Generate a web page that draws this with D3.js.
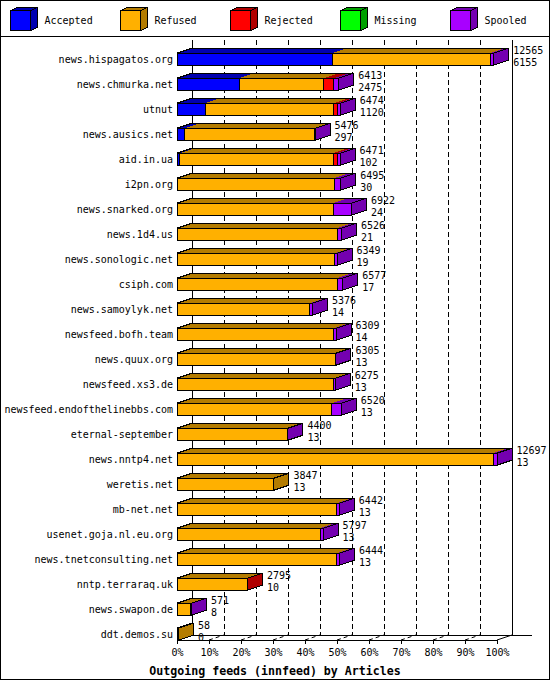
<!DOCTYPE html>
<html>
<head>
<meta charset="utf-8">
<script src="https://cdn.jsdelivr.net/npm/d3@7"></script>
<style>
body { margin: 0; background: #fff; }
text { font-family: "DejaVu Sans Mono", monospace; font-size: 10px; fill: #000; }
</style>
</head>
<body>
<div id="graf"></div>
<script>
// I. Datos

hosts = ['news.hispagatos.org', 'news.chmurka.net', 'utnut', 'news.ausics.net', 'aid.in.ua',
        'i2pn.org', 'news.snarked.org', 'news.1d4.us', 'news.sonologic.net', 'csiph.com',
        'news.samoylyk.net', 'newsfeed.bofh.team', 'news.quux.org', 'newsfeed.xs3.de',
        'newsfeed.endofthelinebbs.com', 'eternal-september', 'news.nntp4.net', 'weretis.net',
        'mb-net.net', 'usenet.goja.nl.eu.org', 'news.tnetconsulting.net', 'nntp.terraraq.uk',
        'news.swapon.de', 'ddt.demos.su']
offered = [12565, 6413, 6474, 5476, 6471, 6495, 6922, 6526, 6349, 6577, 5376, 6309, 6305, 6275,
        6520, 4400, 12697, 3847, 6442, 5797, 6444, 2795, 571, 58]
accepted = [6155, 2475, 1120, 297, 102, 30, 24, 21, 19, 17, 14, 14, 13, 13, 13, 13, 13, 13, 13,
        13, 13, 10, 8, 0]
refused = [6280, 3343, 5088, 5149, 6103, 6200, 6171, 6333, 6237, 6338, 5243, 6202, 6264, 6196,
        6137, 4360, 12534, 3834, 6326, 5678, 6328, 2770, 540, 58]
rejected = [0, 397, 159, 0, 159, 0, 0, 0, 0, 0, 0, 0, 0, 0, 0, 0, 0, 0, 0, 0, 0, 15, 0, 0]
missing = [0, 0, 0, 0, 0, 0, 0, 0, 0, 0, 0, 0, 0, 0, 0, 0, 0, 0, 0, 0, 0, 0, 0, 0]
spooled = [130, 198, 107, 30, 107, 265, 727, 172, 93, 222, 119, 93, 28, 66, 370, 27, 150, 0,
        103, 106, 103, 0, 23, 0]

series = ['Accepted', 'Refused', 'Rejected', 'Missing', 'Spooled']
valores = [accepted, refused, rejected, missing, spooled]
colores = ['#0000ff', '#ffb000', '#ff0000', '#00ff00', '#a800ff']
oscuros = ['#0000b0', '#b47c00', '#b00000', '#00a000', '#7400b0']
pctTicks = d3.range(0, 101, 10)
titulo = 'Outgoing feeds (innfeed) by Articles'

// II. Configuracion
ancho_total = 550
alto_total = 680
DX = 15   // profundidad 3D
DY = 5
yTop = 40
yFloor = 640

svg = d3.select('#graf').append('svg')
        .attr('width', ancho_total)
        .attr('height', alto_total)
        .attr('shape-rendering', 'crispEdges')

svg.append('rect')
        .attr('x', 0.5).attr('y', 0.5)
        .attr('width', ancho_total - 1).attr('height', alto_total - 1)
        .attr('fill', '#fff').attr('stroke', '#000')

//Escaladores
x = d3.scaleLinear().domain([0, d3.max(offered)]).range([177, 497])
pct = d3.scaleLinear().domain([0, 100]).range(x.range())
y = d3.scaleBand().domain(hosts).range([46.7, 46.7 + 25 * hosts.length])
cy = h => y(h) + y.bandwidth() / 2

// Leyenda
leg = svg.append('g')
series.forEach((s, i) => {
        let lx = 10.5 + 110 * i
        let g = leg.append('g').attr('transform', `translate(${lx}, 10.5)`)
        g.append('polygon')
                .attr('points', `0,0 7,-3 27,-3 20,0`)
                .attr('fill', oscuros[i]).attr('stroke', '#000')
        g.append('polygon')
                .attr('points', `20,0 27,-3 27,17 20,20`)
                .attr('fill', oscuros[i]).attr('stroke', '#000')
        g.append('rect')
                .attr('width', 20).attr('height', 20)
                .attr('fill', colores[i]).attr('stroke', '#000')
        g.append('text').attr('x', 34).attr('y', 13.5).text(s)
})
svg.append('line')
        .attr('x1', 0).attr('x2', ancho_total)
        .attr('y1', 36.5).attr('y2', 36.5)
        .attr('stroke', '#000')

// Paredes y rejilla
grid = svg.append('g')
pctTicks.forEach(t => {
        let gx = pct(t) + DX
        grid.append('line')
                .attr('x1', gx).attr('x2', gx)
                .attr('y1', yTop).attr('y2', yFloor - DY)
                .attr('stroke', '#000')
                .attr('stroke-dasharray', (t == 0 || t == 100) ? null : '5,3')
        grid.append('line')
                .attr('x1', pct(t)).attr('x2', pct(t) + DX)
                .attr('y1', yFloor).attr('y2', yFloor - DY)
                .attr('stroke', '#000')
                .attr('shape-rendering', 'auto')
                .attr('stroke-dasharray', (t == 0 || t == 100) ? null : '4,3')
})
grid.append('line')
        .attr('x1', pct(0) + DX).attr('x2', 532)
        .attr('y1', yFloor - DY).attr('y2', yFloor - DY)
        .attr('stroke', '#000')

// Barras
barras = svg.append('g')
hosts.forEach((h, i) => {
        let c = cy(h)
        let yt = c - 6
        let yb = c + 6
        let acc = 0
        let segs = []
        valores.forEach((v, k) => {
                if (v[i] > 0) {
                        segs.push({ x0: x(acc), x1: x(acc + v[i]), k: k })
                        acc += v[i]
                }
        })
        let xe = x(offered[i])
        // cara superior
        segs.forEach(s => {
                barras.append('polygon')
                        .attr('points', `${s.x0},${yt} ${s.x1},${yt} ${s.x1 + DX},${yt - DY} ${s.x0 + DX},${yt - DY}`)
                        .attr('fill', oscuros[s.k])
        })
        barras.append('polygon')
                .attr('points', `${x(0)},${yt} ${xe},${yt} ${xe + DX},${yt - DY} ${x(0) + DX},${yt - DY}`)
                .attr('fill', 'none').attr('stroke', '#000')
        // cara frontal
        segs.forEach(s => {
                barras.append('rect')
                        .attr('x', s.x0).attr('y', yt)
                        .attr('width', Math.max(0, s.x1 - s.x0)).attr('height', yb - yt)
                        .attr('fill', colores[s.k]).attr('stroke', '#000')
        })
        // cara lateral
        let ult = segs[segs.length - 1]
        barras.append('polygon')
                .attr('points', `${xe},${yt} ${xe + DX},${yt - DY} ${xe + DX},${yb - DY} ${xe},${yb}`)
                .attr('fill', oscuros[ult.k]).attr('stroke', '#000')
        // numeros
        barras.append('text')
                .attr('x', xe + DX + 4.5).attr('y', c - 5)
                .text(offered[i])
        barras.append('text')
                .attr('x', xe + DX + 4.5).attr('y', c + 6.5)
                .text(accepted[i])
        // etiqueta
        barras.append('text')
                .attr('x', 173).attr('y', c).attr('dy', '0.35em')
                .attr('text-anchor', 'end')
                .text(h)
})

// Eje X
ejeX = svg.append('g')
        .attr('transform', `translate(0, ${yFloor})`)
        .call(d3.axisBottom(pct)
                .tickValues(pctTicks)
                .tickFormat(d => d + '%')
                .tickSize(4)
                .tickSizeOuter(0)
                .tickPadding(5))
ejeX.selectAll('path, line').attr('stroke', '#000')

svg.append('text')
        .attr('x', 275).attr('y', 675)
        .attr('text-anchor', 'middle')
        .style('font-weight', 'bold')
        .style('font-size', '11.6px')
        .text(titulo)
</script>
</body>
</html>
